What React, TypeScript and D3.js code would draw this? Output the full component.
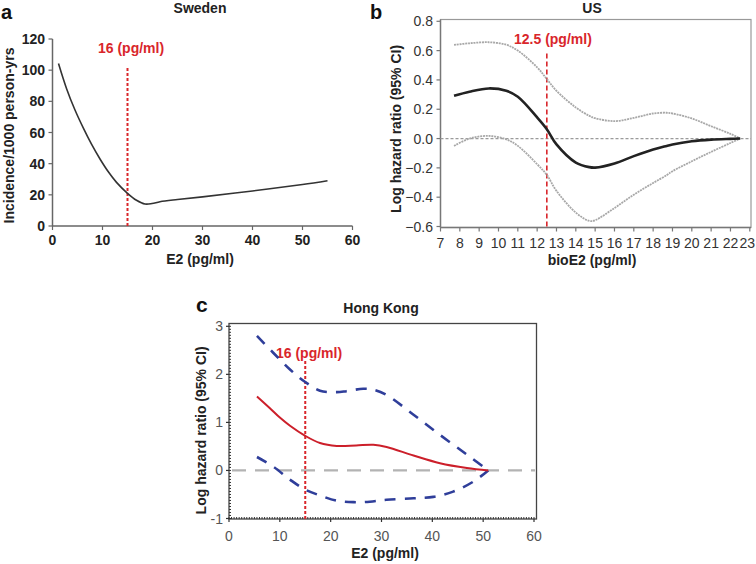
import React from 'react';
import * as d3 from 'd3';

// ---------- Panel a: Sweden ----------
const swedenE2 = [1.2, 2.8, 4.5, 6.2, 7.8, 9.5, 11.2, 12.8, 15, 16.8, 18.5, 19.9, 21.5, 25, 30, 40, 50, 55];
const swedenIncidence = [104.3, 88.3, 74.4, 62.6, 52.5, 43.0, 34.6, 28.0, 21.0, 16.5, 14.1, 14.4, 15.6, 17, 18.7, 22.5, 26.6, 29];
const swedenXTicks = [0, 10, 20, 30, 40, 50, 60];
const swedenYTicks = [0, 20, 40, 60, 80, 100, 120];

// ---------- Panel b: US ----------
const usBioE2 = [7.7, 8.5, 9.5, 10.4, 11, 12, 12.5, 13, 14, 14.7, 15, 16, 17, 18, 18.7, 19, 20, 21, 22, 22.5];
const usLogHR = [0.292, 0.32, 0.342, 0.326, 0.285, 0.144, 0.064, -0.04, -0.164, -0.195, -0.198, -0.17, -0.12, -0.075, -0.05, -0.04, -0.018, -0.007, -0.002, 0];
const usUpper = [0.639, 0.65, 0.657, 0.64, 0.6, 0.486, 0.406, 0.326, 0.212, 0.155, 0.139, 0.119, 0.141, 0.171, 0.176, 0.171, 0.137, 0.084, 0.032, 0];
const usLower = [-0.05, 0.0, 0.018, -0.005, -0.05, -0.175, -0.248, -0.357, -0.505, -0.562, -0.557, -0.474, -0.383, -0.303, -0.25, -0.223, -0.155, -0.091, -0.03, 0];
const usXTicks = d3.range(7, 24);
const usYTicks = [-0.6, -0.4, -0.2, 0, 0.2, 0.4, 0.6, 0.8];

// ---------- Panel c: Hong Kong ----------
const hkE2 = [5.5, 8, 10, 12, 15, 17.9, 21.2, 25, 28.4, 31, 36.3, 41.5, 46.8, 51];
const hkLogHR = [1.54, 1.3, 1.1, 0.93, 0.72, 0.57, 0.51, 0.52, 0.535, 0.49, 0.31, 0.15, 0.05, 0];
const hkUpperE2 = [5.5, 8.7, 12, 15, 17.9, 21.2, 23.1, 26.4, 28.4, 31, 36.3, 41.5, 46.8, 51];
const hkUpper = [2.8, 2.45, 2.1, 1.84, 1.66, 1.63, 1.65, 1.7, 1.68, 1.57, 1.16, 0.74, 0.33, 0];
const hkLowerE2 = [5.5, 8.7, 12, 15, 17.9, 21.2, 24.5, 27.7, 31, 36.3, 40.2, 44.1, 48.1, 51];
const hkLower = [0.28, 0.08, -0.19, -0.4, -0.52, -0.63, -0.66, -0.65, -0.61, -0.58, -0.55, -0.44, -0.23, 0];
const hkXTicks = [0, 10, 20, 30, 40, 50, 60];
const hkYTicks = [-1, 0, 1, 2, 3];

const FONT = "'Liberation Sans', Arial, sans-serif";
const RED = '#d9262b';

type Pt = [number, number];
const zip = (xs: number[], ys: number[]): Pt[] => xs.map((x, i) => [x, ys[i]]);

export default function App() {
  const ax = d3.scaleLinear().domain([0, 60]).range([52.5, 352.5]);
  const ay = d3.scaleLinear().domain([0, 120]).range([226, 39]);

  const bx = d3.scaleLinear().domain([7, 23]).range([440.5, 749.8]);
  const by = d3.scaleLinear().domain([-0.6, 0.8]).range([226.5, 21.3]);

  const cx = d3.scaleLinear().domain([0, 60]).range([229, 534]);
  const cy = d3.scaleLinear().domain([-1, 3]).range([518.5, 326.3]);

  const smooth = d3.curveCatmullRom.alpha(0.5);
  const lineA = d3.line<Pt>().x(d => ax(d[0])).y(d => ay(d[1])).curve(smooth);
  const lineB = d3.line<Pt>().x(d => bx(d[0])).y(d => by(d[1])).curve(smooth);
  const lineC = d3.line<Pt>().x(d => cx(d[0])).y(d => cy(d[1])).curve(smooth);

  const cMinorY = d3.range(-1, 3.0001, 1 / 16);
  const cMinorX = d3.range(0, 60.0001, 0.5);

  return (
    <svg width={756} height={564} style={{ position: 'absolute', left: 0, top: 0, background: '#fff' }} fontFamily={FONT}>
      <rect x={0} y={0} width={756} height={564} fill="#fff" />

      {/* ===== Panel a ===== */}
      <g>
        <text x={1} y={19} fontSize={20} fontWeight="bold" fill="#111">a</text>
        <text x={200} y={13} fontSize={14} fontWeight="bold" textAnchor="middle" fill="#222">Sweden</text>
        <line x1={ax(0)} x2={ax(60)} y1={ay(0)} y2={ay(0)} stroke="#666" strokeWidth={1.5} />
        <line x1={ax(0)} x2={ax(0)} y1={ay(0)} y2={ay(120)} stroke="#666" strokeWidth={1.5} />
        {swedenXTicks.map(t => (
          <g key={'ax' + t}>
            <line x1={ax(t)} x2={ax(t)} y1={ay(0)} y2={ay(0) + 4} stroke="#666" strokeWidth={1.2} />
            <text x={ax(t)} y={245} fontSize={14} fontWeight="bold" textAnchor="middle" fill="#222">{t}</text>
          </g>
        ))}
        {swedenYTicks.map(t => (
          <g key={'ay' + t}>
            <line x1={ax(0) - 4} x2={ax(0)} y1={ay(t)} y2={ay(t)} stroke="#666" strokeWidth={1.2} />
            <text x={45} y={ay(t) + 5} fontSize={14} fontWeight="bold" textAnchor="end" fill="#222">{t}</text>
          </g>
        ))}
        <text transform={`translate(14,${ay(60) + 3}) rotate(-90)`} fontSize={14} fontWeight="bold" textAnchor="middle" fill="#222">Incidence/1000 person-yrs</text>
        <text x={200} y={264} fontSize={14} fontWeight="bold" textAnchor="middle" fill="#222">E2 (pg/ml)</text>
        <line x1={ax(15)} x2={ax(15)} y1={ay(0)} y2={ay(102)} stroke={RED} strokeWidth={2} strokeDasharray="3,2" />
        <text x={98} y={53} fontSize={14} fontWeight="bold" fill={RED}>16 (pg/ml)</text>
        <path d={lineA(zip(swedenE2, swedenIncidence)) || ''} fill="none" stroke="#333" strokeWidth={1.6} />
      </g>

      {/* ===== Panel b ===== */}
      <g>
        <text x={370} y={19} fontSize={20} fontWeight="bold" fill="#111">b</text>
        <text x={592} y={13} fontSize={14} fontWeight="bold" textAnchor="middle" fill="#222">US</text>
        <rect x={bx(7)} y={19.5} width={751 - bx(7)} height={by(-0.6) + 1 - 19.5} fill="none" stroke="#999" strokeWidth={1.2} />
        <line x1={bx(7)} x2={751} y1={by(-0.6) + 1} y2={by(-0.6) + 1} stroke="#777" strokeWidth={1.4} />
        <line x1={bx(7)} x2={bx(7)} y1={19.5} y2={by(-0.6) + 1} stroke="#777" strokeWidth={1.4} />
        {usXTicks.map(t => (
          <g key={'bx' + t}>
            <line x1={bx(t)} x2={bx(t)} y1={by(-0.6) + 1} y2={by(-0.6) + 5} stroke="#777" strokeWidth={1.2} />
            <text x={t === 23 ? 755 : bx(t)} y={248} fontSize={14} textAnchor={t === 23 ? 'end' : 'middle'} fill="#333">{t}</text>
          </g>
        ))}
        {usYTicks.map(t => (
          <g key={'by' + t}>
            <line x1={bx(7) - 4} x2={bx(7)} y1={by(t)} y2={by(t)} stroke="#777" strokeWidth={1.2} />
            <text x={433} y={by(t) + 5} fontSize={14} textAnchor="end" fill="#333">{d3.format('.1f')(t)}</text>
          </g>
        ))}
        <text transform={`translate(401,${by(0.1) + 5}) rotate(-90)`} fontSize={14} fontWeight="bold" textAnchor="middle" fill="#222">Log hazard ratio (95% CI)</text>
        <text x={592} y={265} fontSize={14} fontWeight="bold" textAnchor="middle" fill="#222">bioE2 (pg/ml)</text>
        <line x1={bx(7)} x2={751} y1={by(0)} y2={by(0)} stroke="#9a9a9a" strokeWidth={1.2} strokeDasharray="3,2" />
        <line x1={bx(12.5)} x2={bx(12.5)} y1={by(-0.6)} y2={by(0.59)} stroke={RED} strokeWidth={1.6} strokeDasharray="5,3" />
        <text x={514} y={44} fontSize={14} fontWeight="bold" fill={RED}>12.5 (pg/ml)</text>
        <path d={lineB(zip(usBioE2, usUpper)) || ''} fill="none" stroke="#a8a8a8" strokeWidth={1.8} strokeDasharray="2,0.8" />
        <path d={lineB(zip(usBioE2, usLower)) || ''} fill="none" stroke="#a8a8a8" strokeWidth={1.8} strokeDasharray="2,0.8" />
        <path d={lineB(zip(usBioE2, usLogHR)) || ''} fill="none" stroke="#222" strokeWidth={2.6} />
      </g>

      {/* ===== Panel c ===== */}
      <g>
        <text x={196} y={312} fontSize={21} fontWeight="bold" fill="#111">c</text>
        <text x={381} y={313} fontSize={14} fontWeight="bold" textAnchor="middle" fill="#222">Hong Kong</text>
        <rect x={cx(0)} y={323.5} width={536.5 - cx(0)} height={519 - 323.5} fill="none" stroke="#444" strokeWidth={1.3} />
        {cMinorY.map((t, i) => (
          <line key={'cmy' + i} x1={cx(0)} x2={cx(0) + 2} y1={cy(t)} y2={cy(t)} stroke="#333" strokeWidth={1} />
        ))}
        {cMinorX.map((t, i) => (
          <line key={'cmx' + i} x1={cx(t)} x2={cx(t)} y1={519} y2={517} stroke="#333" strokeWidth={1} />
        ))}
        {hkXTicks.map(t => (
          <g key={'cx' + t}>
            <line x1={cx(t)} x2={cx(t)} y1={519} y2={522} stroke="#333" strokeWidth={1.2} />
            <text x={cx(t)} y={541} fontSize={14} textAnchor="middle" fill="#555">{t}</text>
          </g>
        ))}
        {hkYTicks.map(t => (
          <g key={'cy' + t}>
            <line x1={cx(0) - 3} x2={cx(0)} y1={cy(t)} y2={cy(t)} stroke="#333" strokeWidth={1.2} />
            <text x={223} y={cy(t) + 5} fontSize={14} textAnchor="end" fill="#555">{t}</text>
          </g>
        ))}
        <text transform={`translate(206,${cy(1) + 8}) rotate(-90)`} fontSize={14} fontWeight="bold" textAnchor="middle" fill="#222">Log hazard ratio (95% CI)</text>
        <text x={385} y={558} fontSize={14} fontWeight="bold" textAnchor="middle" fill="#222">E2 (pg/ml)</text>
        <line x1={cx(0) + 3} x2={535} y1={cy(0)} y2={cy(0)} stroke="#b3b3b3" strokeWidth={2.2} strokeDasharray="14,9" />
        <line x1={cx(15)} x2={cx(15)} y1={519} y2={cy(2.3)} stroke={RED} strokeWidth={2} strokeDasharray="3,2" />
        <text x={276} y={358} fontSize={14} fontWeight="bold" fill={RED}>16 (pg/ml)</text>
        <path d={lineC(zip(hkUpperE2, hkUpper)) || ''} fill="none" stroke="#2f3e9a" strokeWidth={2.6} strokeDasharray="11,9" />
        <path d={lineC(zip(hkLowerE2, hkLower)) || ''} fill="none" stroke="#2f3e9a" strokeWidth={2.6} strokeDasharray="11,9" />
        <path d={lineC(zip(hkE2, hkLogHR)) || ''} fill="none" stroke="#cc1f2a" strokeWidth={2} />
      </g>
    </svg>
  );
}
